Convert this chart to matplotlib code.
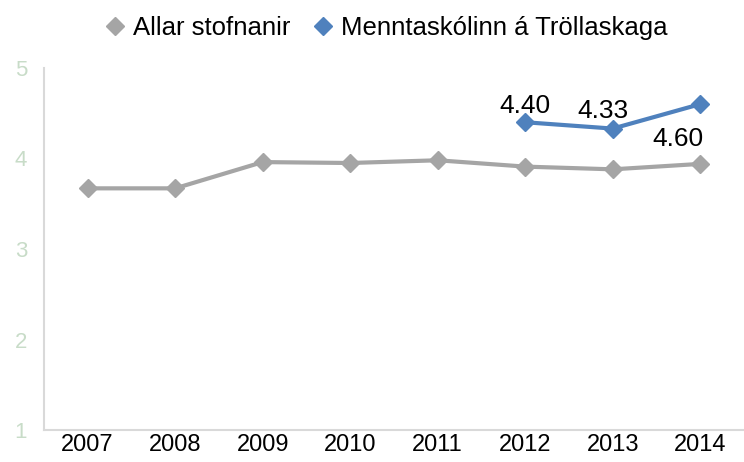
import matplotlib
matplotlib.use('Agg')
import matplotlib.pyplot as plt

years = ['2007', '2008', '2009', '2010', '2011', '2012', '2013', '2014']
allar = [3.67, 3.67, 3.96, 3.95, 3.98, 3.91, 3.88, 3.94]
mtr_years = ['2012', '2013', '2014']
mtr = [4.40, 4.33, 4.60]
mtr_labels = ['4.40', '4.33', '4.60']

plt.rcParams['font.family'] = ['Liberation Sans', 'DejaVu Sans']

fig = plt.figure(figsize=(7.44, 4.62), dpi=100)
ax = fig.add_axes([0.059, 0.069, 0.941, 0.784])

x_all = list(range(len(years)))
x_mtr = [years.index(y) for y in mtr_years]

ax.plot(x_all, allar, color='#a5a5a5', lw=3, marker='D', ms=9,
        label='Allar stofnanir')
ax.plot(x_mtr, mtr, color='#4f81bd', lw=3, marker='D', ms=9,
        label='Menntaskólinn á Tröllaskaga')

# data labels
offsets = [(0, 12), (-7, 13), (-16, -25)]
for xi, v, t, off in zip(x_mtr, mtr, mtr_labels, offsets):
    ax.annotate(t, (xi, v), xytext=off, textcoords='offset points',
                ha='center', va='center', fontsize=19, color='black')

ax.set_xlim(-0.5, len(years) - 0.5)
ax.set_ylim(1, 5)
ax.set_yticks([1, 2, 3, 4, 5])
ax.set_xticks(x_all)
ax.set_xticklabels(years, fontsize=17)
ax.tick_params(axis='y', labelsize=16, labelcolor='#c8dcc8', length=0,
               pad=12)
ax.tick_params(axis='x', length=0, pad=3)

for s in ['top', 'right']:
    ax.spines[s].set_visible(False)
for s in ['left', 'bottom']:
    ax.spines[s].set_color('#d9d9d9')
    ax.spines[s].set_linewidth(1.5)

fig.legend(loc='upper center', bbox_to_anchor=(0.52, 1.015), ncol=2,
           frameon=False, fontsize=18.5, handlelength=0.7, handletextpad=0.35,
           columnspacing=0.9)
leg = fig.legends[0]
for h in leg.legend_handles:
    h.set_linestyle('none')

fig.savefig('out.png', dpi=100)
